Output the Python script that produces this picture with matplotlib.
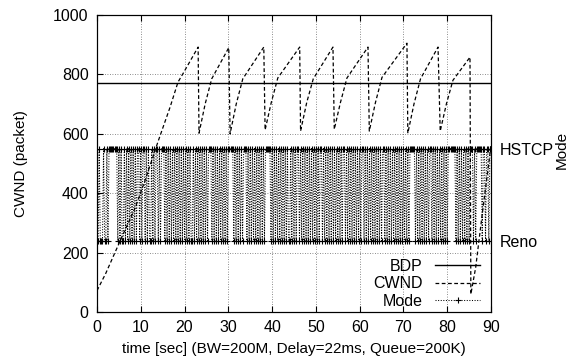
import numpy as np
import matplotlib.pyplot as plt

plt.rcParams['font.family'] = ['Liberation Sans', 'DejaVu Sans']

# BDP (packets)
bdp = 770

# CWND trace (time in sec, window in packets)
cwnd_time = [0, 2.0, 4.1, 6.4, 8.7, 11.0, 13.9, 16.7, 18.5, 19.7, 23.1,
             23.3, 24.7, 26.2, 30.1,
             30.4, 31.8, 33.3, 38.1,
             38.4, 39.8, 41.3, 46.3,
             46.5, 47.9, 49.4, 53.9,
             54.2, 55.6, 57.1, 61.9,
             62.2, 63.6, 65.1, 70.8,
             71.0, 72.4, 73.9, 77.9,
             78.4, 79.8, 81.3, 85.2,
             85.4, 86.5, 88.0, 90.0]
cwnd_val = [72, 130, 200, 276, 350, 444, 572, 690, 774, 804, 892,
            602, 700, 785, 890,
            600, 700, 785, 892,
            613, 705, 788, 892,
            609, 705, 785, 892,
            615, 705, 788, 892,
            609, 705, 790, 905,
            602, 700, 785, 892,
            609, 700, 780, 858,
            60, 150, 330, 560]

# Mode samples every 0.25 s: R = Reno, H = HSTCP
mode_step = 0.25
mode_states = ("RRHRRRHRRH" "RHHHHHHHHR" "HRHRRHRHRH" "RHRHRHRHHR"
               "HRHHRHRHRR" "HRHRHHRHRH" "HHRHRHRHRH" "RHRHRHRHRH"
               "RHRHRHRRHR" "HRHRHRHRHR" "HRHHHRHRHR" "HRHRHRHRHR"
               "HHHHHRHRHR" "HRHRHHHRHR" "HRHRHRHRHR" "HRHRHHHHHR"
               "HRHRHRHRHR" "HRHRHRRHRH" "RHRHHRHRHR" "HRHRHRHRHR"
               "HRHRHHRHRH" "RHRHRHRHRH" "RHRHRHHRHR" "HRHRHRHRHR"
               "HRHHRHRHRH" "RHRHRHRHRH" "RHHRHRHRHR" "HRHRHRHRHR"
               "HRHRHRHHHH" "HRHRHRHRHR" "HRHRHHRHRH" "RHRHRHRHRH"
               "RHHHHHHHRH" "RHRHRHRHRH" "RHHHRHRHHH" "HHRHHRHHRH"
               "H")
mode_level = {'R': 240, 'H': 550}
mode_names = ['Reno', 'HSTCP']

mode_time = np.arange(len(mode_states)) * mode_step
mode_val = [mode_level[c] for c in mode_states]

fig = plt.figure(figsize=(5.73, 3.60), dpi=100)
ax = fig.add_axes([97/573, 48/360, 394/573, 297/360])

ax.axhline(bdp, color='black', lw=1.0, label='BDP')
ax.plot(cwnd_time, cwnd_val, color='black', lw=0.9, ls=(0, (3, 2)), label='CWND')
ax.plot(mode_time, mode_val, color='black', lw=0.75, ls=(0, (1, 1.5)),
        marker='+', ms=4, mew=0.8, label='Mode')

ax.set_xlim(0, 90)
ax.set_ylim(0, 1000)
ax.set_xticks(np.arange(0, 91, 10))
ax.set_yticks(np.arange(0, 1001, 200))
ax.grid(True, color='black', ls=(0, (1, 2)), lw=0.6, alpha=0.6)
ax.tick_params(direction='in', top=True, right=True, labelsize=11.5, length=4, pad=6)
ax.set_xlabel('time [sec] (BW=200M, Delay=22ms, Queue=200K)', fontsize=11, labelpad=5)
ax.set_ylabel('CWND (packet)', fontsize=11)
ax.yaxis.set_label_coords(-0.175, 0.5)

ax2 = ax.twinx()
ax2.set_ylim(0, 1000)
ax2.set_yticks([mode_level['R'], mode_level['H']])
ax2.set_yticklabels(mode_names)
ax2.tick_params(direction='in', labelsize=11.5, length=4, pad=6)
ax2.set_ylabel('Mode', fontsize=11)
ax2.yaxis.set_label_coords(1.163, 0.545)

ax.legend(loc='lower right', bbox_to_anchor=(0.98, 0.0), frameon=False,
          markerfirst=False, fontsize=11.5, numpoints=1, handlelength=2.8,
          handletextpad=0.8, labelspacing=0.15, borderpad=0.2, borderaxespad=0.0)

fig.savefig('out.png', dpi=100)
